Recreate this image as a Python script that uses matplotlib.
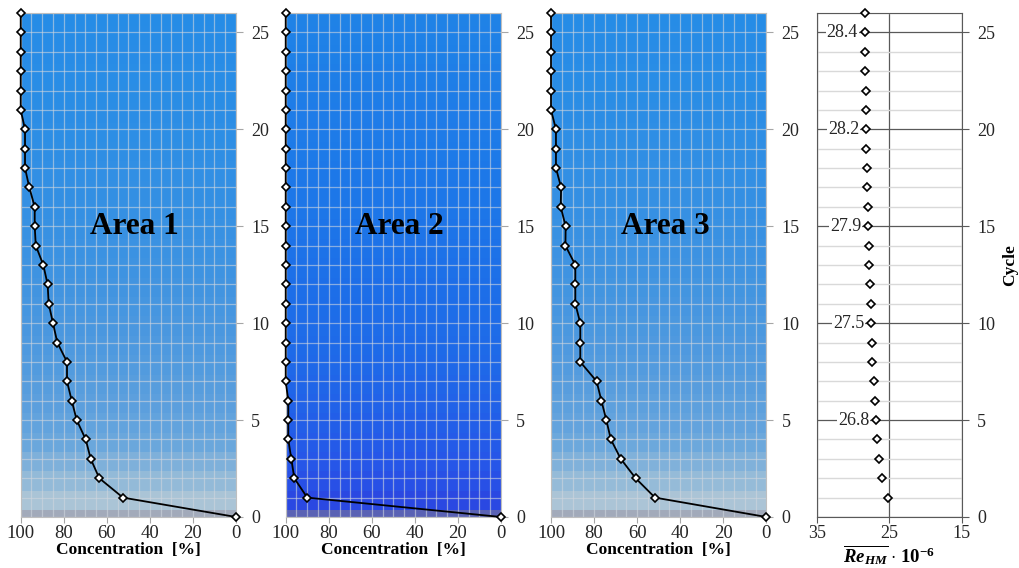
import matplotlib
matplotlib.use('Agg')
import matplotlib.pyplot as plt
import numpy as np

plt.rcParams.update({'font.family': 'Liberation Serif', 'font.size': 12,
                     'mathtext.fontset': 'custom',
                     'mathtext.rm': 'Liberation Serif',
                     'mathtext.it': 'Liberation Serif:italic',
                     'mathtext.bf': 'Liberation Serif:bold',
                     'mathtext.bfit': 'Liberation Serif:italic:bold'})

cycles = np.arange(0, 27)
conc_area1 = [0, 52.5, 63.5, 67.5, 69.8, 74, 76.3, 78.5, 78.5, 83, 85, 87, 87.5, 89.5,
              93, 93.5, 93.5, 96, 98, 98, 98, 100, 100, 100, 100, 100, 100]
conc_area2 = [0, 90, 96, 97.4, 98.8, 98.8, 98.8, 100, 100, 100, 100, 100, 100, 100,
              100, 100, 100, 100, 100, 100, 100, 100, 100, 100, 100, 100, 100]
conc_area3 = [0, 51.7, 60.7, 67.6, 72.2, 74.3, 76.6, 78.8, 86.4, 86.4, 86.4, 88.7, 88.7, 88.7,
              93.3, 93.2, 95.5, 95.3, 97.7, 97.7, 97.7, 100, 100, 100, 100, 100, 100]

re_cycles = np.arange(1, 27)
re_hm = [25.25, 26.0, 26.4, 26.68, 26.85, 27.0, 27.18, 27.37, 27.45, 27.5, 27.6, 27.7, 27.77,
         27.85, 27.9, 27.99, 28.1, 28.14, 28.2, 28.2, 28.24, 28.28, 28.33, 28.4, 28.4, 28.42]
re_label_cycles = [5, 10, 15, 20, 25]
re_label_text = ['26.8', '27.5', '27.9', '28.2', '28.4']

# background bands, bottom to top
band_edges = [0] + [k + 0.35 for k in range(26)] + [26]
bg_area1 = ['#a2aaba', '#aac4d6', '#93bad8', '#7eb0da', '#6aa7dc', '#62a3dd', '#5c9fdd',
            '#579ddd', '#529bde', '#4e99df', '#4a97df', '#4696e0', '#4294e0', '#3e93e1',
            '#3b92e2', '#3891e2', '#3590e3', '#338fe3', '#318fe4', '#2f8ee4', '#2d8ee5',
            '#2b8de5', '#2a8de5', '#298de6', '#288ce6', '#278ce6', '#268ce6']
bg_area2 = ['#5a62b4', '#2a48e2', '#2850e6', '#2656e8', '#245ae8', '#225ee8', '#2162e8',
            '#2065e8', '#1f68e8', '#1e6ae8', '#1e6ce8', '#1d6de8', '#1d6ee8', '#1d70e8',
            '#1d72e8', '#1d74e8', '#1d76e8', '#1d77e8', '#1d78e8', '#1d7ae8', '#1e7be8',
            '#1e7ce8', '#1e7de7', '#1e7ee7', '#1e80e7', '#1f81e7', '#1f82e6']
bg_area3 = ['#a2aaba', '#abc4d6', '#95bbd8', '#80b1da', '#6ca8dc', '#63a3dd', '#5da0dd',
            '#589ddd', '#539bde', '#4f99df', '#4b98df', '#4796e0', '#4395e0', '#3f93e1',
            '#3c92e2', '#3991e2', '#3690e3', '#348fe3', '#328fe4', '#308ee4', '#2e8ee5',
            '#2c8de5', '#2a8de5', '#298de6', '#288ce6', '#278ce6', '#268ce6']

areas = [('Area 1', conc_area1, bg_area1, 0.0203),
         ('Area 2', conc_area2, bg_area2, 0.2801),
         ('Area 3', conc_area3, bg_area3, 0.5402)]

fig = plt.figure(figsize=(10.2, 5.68), dpi=100)
tcol = '#262626'

for name, conc, bg, left in areas:
    ax = fig.add_axes([left, 0.0898, 0.2111, 0.8873])
    for i, c in enumerate(bg):
        ax.axhspan(band_edges[i], band_edges[i + 1], color=c, zorder=0, lw=0)
    ax.set_axisbelow(True)
    ax.plot(conc, cycles, color='black', lw=1.3, marker='D', ms=4.5,
            mfc='white', mec='black', mew=1.2, zorder=3, clip_on=False)
    ax.set_xlim(100, 0)
    ax.set_ylim(0, 26)
    ax.set_xticks(np.arange(0, 101, 20))
    ax.set_xticks(np.arange(0, 101, 5), minor=True)
    ax.set_yticks(np.arange(0, 26, 5))
    ax.set_yticks(np.arange(0, 27, 1), minor=True)
    ax.grid(True, which='both', color='#d0d6de', alpha=0.6, lw=0.9)
    ax.yaxis.tick_right()
    ax.tick_params(axis='y', which='major', direction='out', length=5, color='#a6a6a6',
                   labelsize=13, labelcolor=tcol, pad=6)
    ax.tick_params(axis='x', which='major', direction='out', length=4, color='#a6a6a6',
                   labelsize=13.5, labelcolor=tcol, pad=2)
    ax.tick_params(which='minor', length=0)
    for s in ax.spines.values():
        s.set_color('#bfbfbf')
    ax.set_xlabel('Concentration  [%]', fontweight='bold', fontsize=12.5, labelpad=0)
    ax.text(47, 15, name, ha='center', va='center', fontsize=22.5, fontweight='bold',
            zorder=4)

ax4 = fig.add_axes([0.801, 0.0898, 0.1419, 0.8873])
ax4.set_xlim(35, 15)
ax4.set_ylim(0, 26)
ax4.set_xticks([35, 25, 15])
ax4.set_yticks(np.arange(0, 26, 5))
ax4.set_yticks(np.arange(0, 27, 1), minor=True)
ax4.grid(True, which='minor', axis='y', color='#d9d9d9', lw=1.0, zorder=0)
ax4.grid(True, which='major', axis='y', color='#595959', lw=0.9, zorder=0)
ax4.grid(True, which='major', axis='x', color='#595959', lw=0.9, zorder=0)
ax4.set_axisbelow(True)
ax4.plot(re_hm, re_cycles, ls='none', marker='D', ms=4.5, mfc='white', mec='black',
         mew=1.2, zorder=3, clip_on=False)
for c, t in zip(re_label_cycles, re_label_text):
    ax4.annotate(t, xy=(re_hm[c - 1], c), xytext=(-5, 0), textcoords='offset points',
                 ha='right', va='center', fontsize=13, color=tcol,
                 bbox=dict(facecolor='white', edgecolor='none', pad=0.5), zorder=4)
ax4.yaxis.tick_right()
ax4.yaxis.set_label_position('right')
ax4.tick_params(axis='y', which='major', direction='out', length=5, color='#595959',
                labelsize=13, labelcolor=tcol, pad=6)
ax4.tick_params(axis='x', direction='out', length=4, color='#595959',
                labelsize=13, labelcolor=tcol, pad=2)
ax4.tick_params(which='minor', length=0)
for s in ax4.spines.values():
    s.set_color('#595959')
ax4.set_ylabel('Cycle', fontweight='bold', fontsize=12.5, labelpad=5)
ax4.set_xlabel(r'$\overline{\mathbfit{Re}_{\mathbfit{HM}}}\ \mathbf{\cdot\ 10^{-6}}$',
               fontsize=13.5, labelpad=1)

fig.savefig('out.png', dpi=100)
